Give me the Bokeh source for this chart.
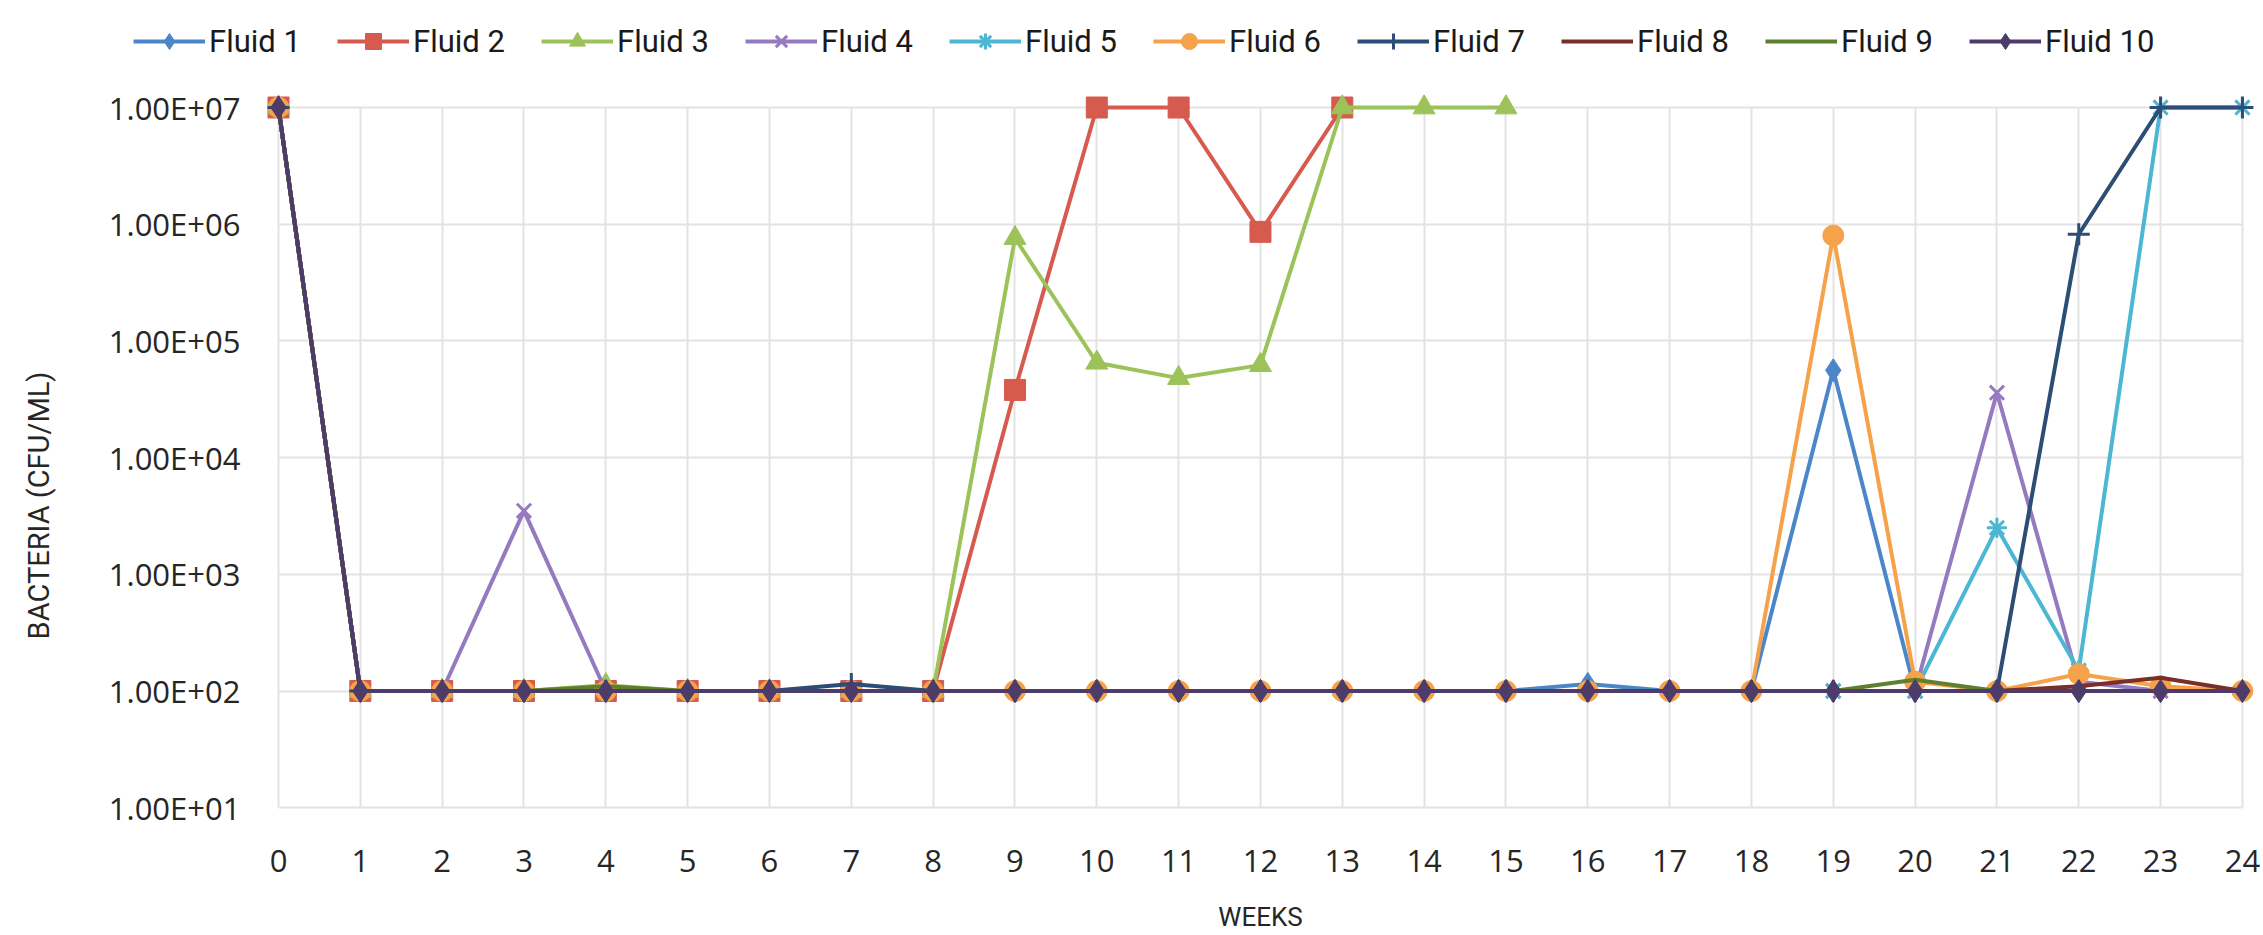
import math
from bokeh.plotting import figure
from bokeh.models import Range1d, Legend, LegendItem, Label
from bokeh.embed import file_html
from bokeh.resources import INLINE

weeks = list(range(25))
y_ticks = [1e1, 1e2, 1e3, 1e4, 1e5, 1e6, 1e7]
y_tick_labels = ["1.00E+01", "1.00E+02", "1.00E+03", "1.00E+04", "1.00E+05", "1.00E+06", "1.00E+07"]

fluid1 = [1e7, 100, 100, 100, 100, 100, 100, 100, 100, 100, 100, 100, 100, 100, 100, 100, 115, 100, 100, 5.6e4, 100, 100, 100, 100, 100]
fluid2 = [1e7, 100, 100, 100, 100, 100, 100, 100, 100, 3.8e4, 1e7, 1e7, 8.6e5, 1e7]
fluid3 = [1e7, 100, 100, 100, 112, 100, 100, 100, 100, 7.6e5, 6.5e4, 4.8e4, 6.2e4, 1e7, 1e7, 1e7]
fluid4 = [1e7, 100, 100, 3.5e3, 100, 100, 100, 100, 100, 100, 100, 100, 100, 100, 100, 100, 100, 100, 100, 100, 100, 3.6e4, 120, 100, 100]
fluid5 = [1e7, 100, 100, 100, 100, 100, 100, 100, 100, 100, 100, 100, 100, 100, 100, 100, 100, 100, 100, 100, 100, 2.5e3, 150, 1e7, 1e7]
fluid6 = [1e7, 100, 100, 100, 100, 100, 100, 100, 100, 100, 100, 100, 100, 100, 100, 100, 100, 100, 100, 8e5, 120, 100, 140, 110, 100]
fluid7 = [1e7, 100, 100, 100, 100, 100, 100, 115, 100, 100, 100, 100, 100, 100, 100, 100, 100, 100, 100, 100, 100, 100, 8.2e5, 1e7, 1e7]
fluid8 = [1e7, 100, 100, 100, 100, 100, 100, 100, 100, 100, 100, 100, 100, 100, 100, 100, 100, 100, 100, 100, 100, 100, 110, 130, 100]
fluid9 = [1e7, 100, 100, 100, 110, 100, 100, 100, 100, 100, 100, 100, 100, 100, 100, 100, 100, 100, 100, 100, 125, 100, 100, 100, 100]
fluid10 = [1e7, 100, 100, 100, 100, 100, 100, 100, 100, 100, 100, 100, 100, 100, 100, 100, 100, 100, 100, 100, 100, 100, 100, 100, 100]

names = ["Fluid 1", "Fluid 2", "Fluid 3", "Fluid 4", "Fluid 5", "Fluid 6", "Fluid 7", "Fluid 8", "Fluid 9", "Fluid 10"]
values = [fluid1, fluid2, fluid3, fluid4, fluid5, fluid6, fluid7, fluid8, fluid9, fluid10]
colors = ["#4A86C8", "#D65A4E", "#9CC35A", "#957AC0", "#4DB6D3", "#F5A24A", "#2C4D75", "#7A2E2A", "#5F7F30", "#4D3B6A"]
markers = ["diamond", "square", "triangle", "x", "asterisk", "circle", "cross", None, None, "diamond"]

# page geometry (pixels)
W, H = 2260, 935
X0_PX, PX_PER_WEEK = 278.0, 81.83      # position of week 0, width of one week
Y7_PX, PX_PER_DEC = 107.0, 116.7       # position of 1e7, height of one decade

x_range = Range1d(-X0_PX / PX_PER_WEEK, (W - X0_PX) / PX_PER_WEEK)
y_range = Range1d(10 ** (7 - (H - Y7_PX) / PX_PER_DEC), 10 ** (7 + Y7_PX / PX_PER_DEC))

p = figure(width=W, height=H, y_axis_type="log", x_range=x_range, y_range=y_range,
           output_backend="svg", toolbar_location=None, min_border=0,
           min_border_left=0, min_border_right=0, min_border_top=0, min_border_bottom=0)
p.outline_line_color = None
p.background_fill_color = "white"
p.border_fill_color = "white"

p.xaxis.ticker = weeks
p.yaxis.ticker = y_ticks
p.yaxis.major_label_overrides = {t: l for t, l in zip(y_ticks, y_tick_labels)}
p.xaxis.fixed_location = 10
p.yaxis.fixed_location = 0
for ax in (p.xaxis[0], p.yaxis[0]):
    ax.axis_line_color = None
    ax.major_tick_line_color = None
    ax.minor_tick_line_color = None
    ax.major_label_text_font = "Open Sans"
    ax.major_label_text_font_size = "31px"
    ax.major_label_text_color = "#262626"
p.xaxis.major_label_standoff = 36
p.yaxis.major_label_standoff = 32

p.xgrid.grid_line_color = "#E3E3E3"
p.ygrid.grid_line_color = "#E3E3E3"
p.xgrid.grid_line_width = 2
p.ygrid.grid_line_width = 2
p.xgrid.cross_bounds = (10, 1e7)
p.ygrid.cross_bounds = (0, 24)

xtitle = Label(x=1260, y=H - 916, x_units="screen", y_units="screen", text="WEEKS",
               text_align="center", text_baseline="middle",
               text_font="Roboto", text_font_size="26px", text_color="#262626")
ytitle = Label(x=38, y=H - 505, x_units="screen", y_units="screen", text="BACTERIA (CFU/ML)",
               angle=math.pi / 2, text_align="center", text_baseline="middle",
               text_font="Roboto", text_font_size="29px", text_color="#262626")
p.add_layout(xtitle)
p.add_layout(ytitle)

sizes = {"diamond": 23, "square": 21, "triangle": 22, "x": 20, "asterisk": 20, "circle": 21, "cross": 22}

items = []
for name, ys, color, marker in zip(names, values, colors, markers):
    xs = weeks[:len(ys)]
    rs = [p.line(xs, ys, line_color=color, line_width=4)]
    if marker is not None:
        lw = 3 if marker in ("x", "asterisk", "cross") else 1
        rs.append(p.scatter(xs, ys, marker=marker, size=sizes[marker],
                            fill_color=color, line_color=color, line_width=lw))
    items.append(LegendItem(label=name, renderers=rs))

legend = Legend(items=items, orientation="horizontal", location=(133, H - 61),
                glyph_width=72, glyph_height=40, label_standoff=4, label_width=100, spacing=28,
                padding=0, margin=0, border_line_color=None, background_fill_alpha=0,
                label_text_font="Roboto", label_text_font_size="31px", label_text_color="#1a1a1a")
p.add_layout(legend, "center")

open("out.html", "w").write(file_html(p, INLINE))
